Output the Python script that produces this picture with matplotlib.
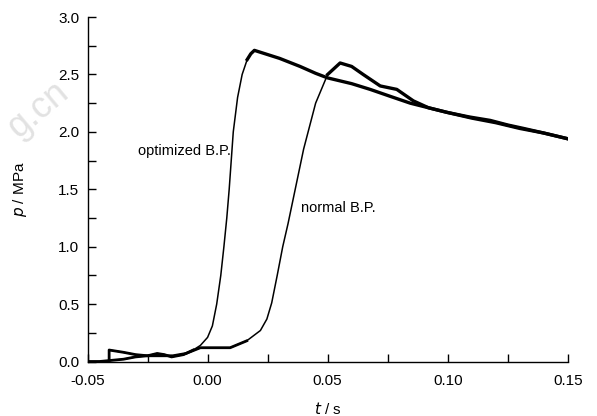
'''
Pressure traces p(t) for normal and optimized B.P.
'''
import numpy as np
from matplotlib import pyplot as plt
from matplotlib.ticker import MultipleLocator, FormatStrFormatter

plt.rcParams['font.family'] = ['Liberation Sans', 'DejaVu Sans']

## optimized B.P.
t_opt = [-0.050, -0.045, -0.040, -0.035, -0.030, -0.025, -0.021, -0.018, -0.015,
         -0.010, -0.006, -0.003, 0.000, 0.002, 0.0038, 0.0055, 0.0068, 0.008,
         0.009, 0.0107, 0.0125, 0.0144, 0.0165, 0.018, 0.0195, 0.024, 0.030,
         0.0385, 0.045, 0.050, 0.060, 0.0677, 0.0760, 0.0844, 0.092, 0.0997,
         0.1090, 0.1177, 0.1250, 0.1316, 0.1400, 0.1500]
p_opt = [0.00, 0.00, 0.01, 0.02, 0.04, 0.05, 0.07, 0.06, 0.04,
         0.06, 0.10, 0.14, 0.21, 0.31, 0.50, 0.75, 1.00, 1.25,
         1.50, 2.00, 2.30, 2.50, 2.63, 2.68, 2.71, 2.68, 2.64,
         2.57, 2.51, 2.47, 2.42, 2.37, 2.31, 2.25, 2.21, 2.17,
         2.13, 2.10, 2.06, 2.03, 1.99, 1.94]

## normal B.P.
t_nor = [-0.041, -0.041, -0.035, -0.030, -0.025, -0.020, -0.0144, -0.009,
         -0.003, 0.003, 0.0094, 0.0163, 0.022, 0.0247, 0.0267, 0.029, 0.0313,
         0.0335, 0.0356, 0.040, 0.045, 0.050, 0.0552, 0.060, 0.0648, 0.0719,
         0.0788, 0.0857, 0.092, 0.0997, 0.110, 0.120, 0.130, 0.140, 0.150]
p_nor = [0.01, 0.10, 0.08, 0.06, 0.05, 0.05, 0.05, 0.07,
         0.12, 0.12, 0.12, 0.18, 0.27, 0.37, 0.51, 0.75, 1.00,
         1.20, 1.41, 1.85, 2.25, 2.50, 2.60, 2.57, 2.50, 2.40,
         2.37, 2.27, 2.21, 2.17, 2.12, 2.08, 2.03, 1.99, 1.94]

x_ticks = [-0.05, 0.00, 0.05, 0.10, 0.15]
y_ticks = [0.0, 0.5, 1.0, 1.5, 2.0, 2.5, 3.0]

fig = plt.figure(figsize=(5.97, 4.16), dpi=100)
ax = fig.add_axes([0.1466, 0.131, 0.8044, 0.828])

def draw_trace(t, p, t_rise0, t_rise1):
    '''
    Thin line through the steep rise, thicker (noisy look) elsewhere
    '''
    t = np.asarray(t)
    p = np.asarray(p)
    ax.plot(t, p, color='black', lw=1.1, solid_joinstyle='round')
    low = t <= t_rise0
    high = t >= t_rise1
    ax.plot(t[low], p[low], color='black', lw=2.0, solid_joinstyle='round')
    ax.plot(t[high], p[high], color='black', lw=2.4, solid_joinstyle='round')

draw_trace(t_opt, p_opt, -0.006, 0.0165)
draw_trace(t_nor, p_nor, 0.0163, 0.050)

ax.set_xlim(-0.05, 0.15)
ax.set_ylim(0.0, 3.0)
ax.set_xticks(x_ticks)
ax.set_yticks(y_ticks)
ax.xaxis.set_minor_locator(MultipleLocator(0.025))
ax.yaxis.set_minor_locator(MultipleLocator(0.25))
ax.xaxis.set_major_formatter(FormatStrFormatter('%.2f'))
ax.yaxis.set_major_formatter(FormatStrFormatter('%.1f'))
ax.tick_params(which='both', direction='in', length=6, width=1, labelsize=11)
ax.tick_params(axis='x', pad=9)
ax.tick_params(axis='y', pad=6)
for s in ['top', 'right']:
    ax.spines[s].set_visible(False)
for s in ['left', 'bottom']:
    ax.spines[s].set_linewidth(1.0)

ax.set_xlabel('$t$ / s', fontsize=11, labelpad=9)
ax.set_ylabel('$p$ / MPa', fontsize=11, labelpad=21)

ax.text(0.0097, 1.83, 'optimized B.P.', fontsize=10.5, ha='right', va='center')
ax.text(0.0390, 1.34, 'normal B.P.', fontsize=10.5, ha='left', va='center')

# faint watermark in the upper left corner
fig.text(0.03, 0.665, 'g.cn', fontsize=26, color='#e2e2e2', rotation=40,
         rotation_mode='anchor', ha='left', va='baseline', zorder=-1)

plt.savefig('out.png', dpi=100)
